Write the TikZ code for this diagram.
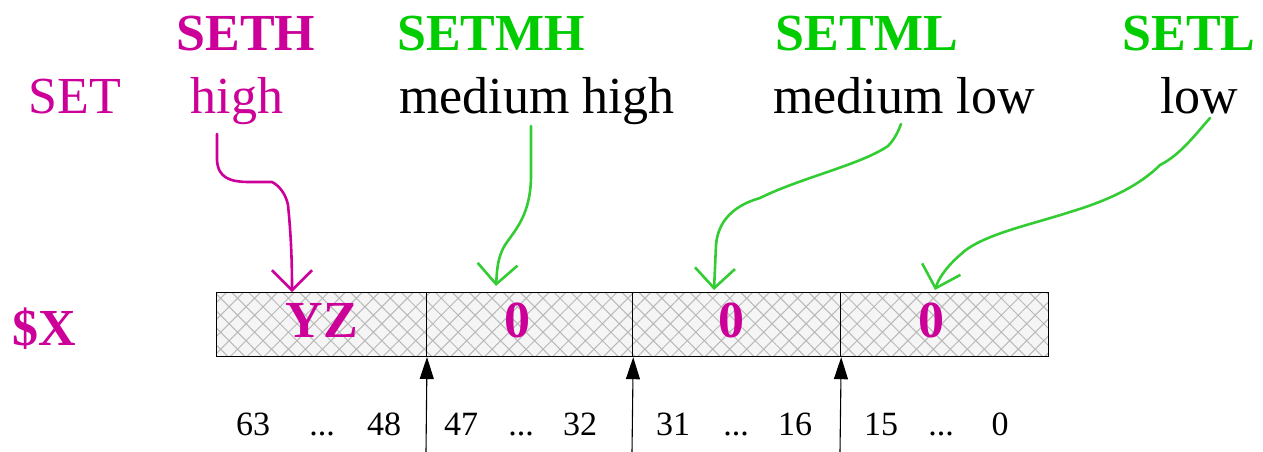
\documentclass[tikz,border=0pt]{standalone}
\usepackage{fontspec}
\setmainfont{Liberation Serif}
\newfontfamily\timesfam{Liberation Serif}
\usetikzlibrary{arrows.meta,patterns.meta}
\definecolor{mag}{HTML}{CC0099}
\definecolor{grn}{HTML}{00CC00}
\definecolor{grnline}{HTML}{33CC33}
\begin{document}
\begin{tikzpicture}[x=1pt,y=-1pt,
  big/.style={font=\timesfam\fontsize{52}{60}\selectfont, inner sep=0pt, anchor=base},
  bigb/.style={font=\timesfam\bfseries\fontsize{52}{60}\selectfont, inner sep=0pt, anchor=base},
  num/.style={font=\timesfam\fontsize{34}{40}\selectfont, inner sep=0pt, anchor=base},
  cell/.style={draw=black, line width=1.2pt, minimum height=64pt, inner sep=0pt, anchor=north west,
    preaction={fill=gray!8}, pattern={Hatch[angle=45,distance=12pt,line width=1pt]}, pattern color=gray!55},
  pin/.style={-{Triangle[length=22pt,width=14pt]}, line width=1.1pt, black},
  hand/.style={line width=2.6pt, line cap=round, line join=round,
    -{Straight Barb[length=20pt,width=40pt,line width=2.6pt]}}
]
\useasboundingbox (0,0) rectangle (1263,451);

% header labels
\node[bigb, text=mag] (seth) at (246,50) {SETH};
\node[bigb, text=grn] (setmh) at (491,50) {SETMH};
\node[bigb, text=grn] (setml) at (867,50) {SETML};
\node[bigb, text=grn] (setl) at (1189,50) {SETL};

\node[big, text=mag] (set) at (75,113) {SET};
\node[big, text=mag] (high) at (237,113) {high};
\node[big] (mhigh) at (537,113) {medium high};
\node[big] (mlow) at (904,113) {medium low};
\node[big] (low) at (1199,113) {low};

% register cells
\node[cell, minimum width=210pt] (c1) at (216,292) {};
\node[cell, minimum width=206pt] (c2) at (426,292) {};
\node[cell, minimum width=208pt] (c3) at (632,292) {};
\node[cell, minimum width=208pt] (c4) at (840,292) {};

\node[bigb, text=mag] (yz) at (322,337) {YZ};
\node[bigb, text=mag] (z2) at (517,337) {0};
\node[bigb, text=mag] (z3) at (731,337) {0};
\node[bigb, text=mag] (z4) at (931,337) {0};
\node[bigb, text=mag] (regx) at (44,345) {\$X};

% bit numbers
\node[num] (n63) at (253,435) {63};
\node[num] (d1) at (322,435) {...};
\node[num] (n48) at (384,435) {48};
\node[num] (n47) at (461,435) {47};
\node[num] (d2) at (521,435) {...};
\node[num] (n32) at (580,435) {32};
\node[num] (n31) at (673,435) {31};
\node[num] (d3) at (736,435) {...};
\node[num] (n16) at (795,435) {16};
\node[num] (n15) at (881,435) {15};
\node[num] (d4) at (941,435) {...};
\node[num] (n0) at (1000,435) {0};

% boundary pins
\coordinate (b1) at (426,452);
\coordinate (b2) at (632,452);
\coordinate (b3) at (840,452);
\draw[pin] (b1) -- (c1.south east);
\draw[pin] (b2) -- (c2.south east);
\draw[pin] (b3) -- (c3.south east);

% hand-drawn arrows
\coordinate (s1) at (217,134);
\coordinate (t1) at (292,292);
\draw[hand, mag] (s1) -- (217,160) .. controls (218,178) and (230,182) .. (250,182)
  -- (272,182) .. controls (280,186) and (286,195) .. (288,205)
  .. controls (291,235) and (292,260) .. (t1);

\coordinate (s2) at (531,126);
\coordinate (t2) at (496,286);
\draw[hand, grnline] (s2) -- (531,175) .. controls (531,215) and (515,230) .. (505,245)
  .. controls (497,258) and (497,272) .. (t2);

\coordinate (s3) at (901,124);
\coordinate (t3) at (714,290);
\draw[hand, grnline] (s3) .. controls (897,135) and (892,142) .. (888,146)
  .. controls (860,165) and (800,178) .. (760,198)
  .. controls (735,205) and (718,220) .. (716,245)
  -- (t3);

\coordinate (s4) at (1210,118);
\coordinate (t4) at (935,290);
\draw[hand, grnline] (s4) .. controls (1195,135) and (1180,155) .. (1160,165)
  .. controls (1140,185) and (1110,200) .. (1070,212)
  .. controls (1030,225) and (980,235) .. (960,255)
  .. controls (945,268) and (938,280) .. (t4);
\end{tikzpicture}
\end{document}
